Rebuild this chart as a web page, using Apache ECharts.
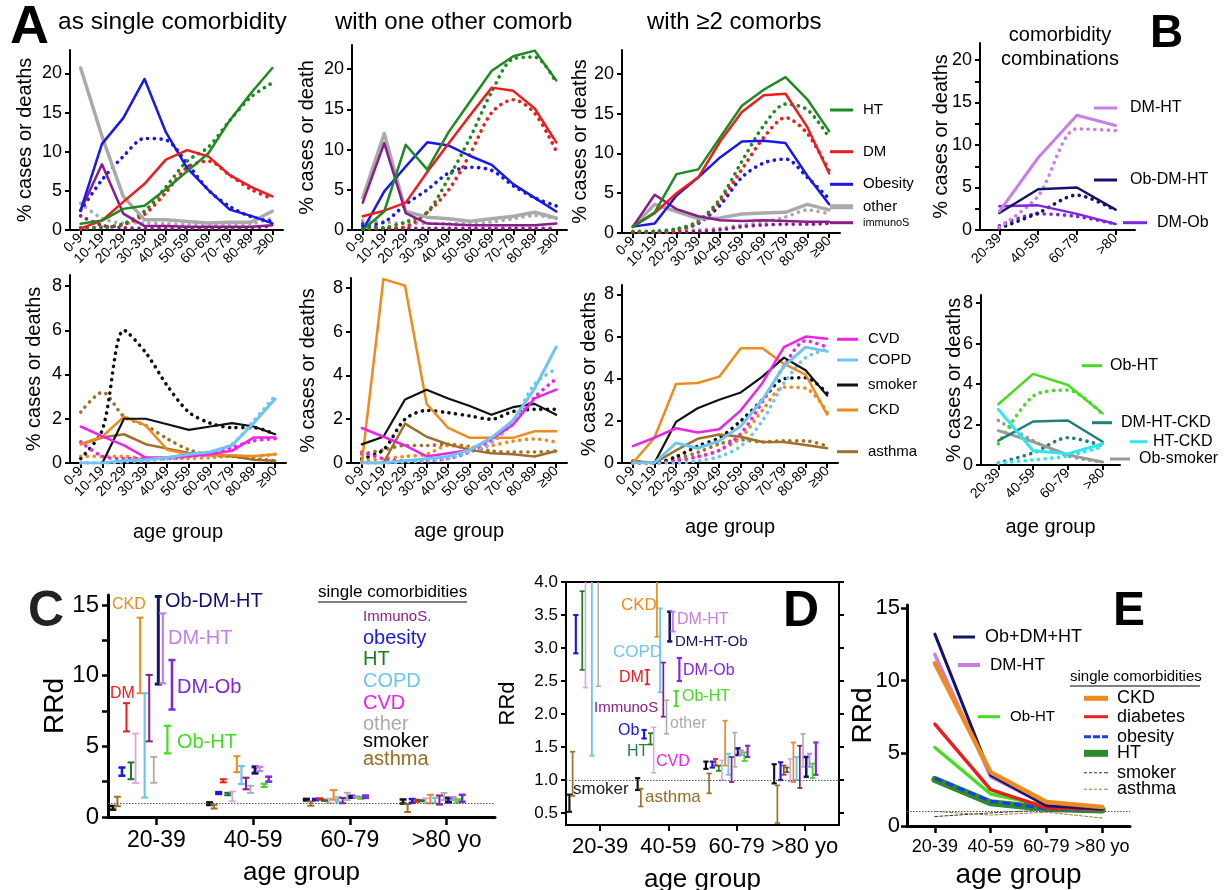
<!DOCTYPE html>
<html><head><meta charset="utf-8">
<script src="https://cdn.jsdelivr.net/npm/echarts@6/dist/echarts.min.js"></script>
<style>html,body{margin:0;padding:0;background:#fff}#c{width:1225px;height:890px}</style>
</head><body><div id="c"></div>
<script>
// ---------- categories & ticks ----------
const ages10 = ['0-9','10-19','20-29','30-39','40-49','50-59','60-69','70-79','80-89','≥90'];
const agesB = ['20-39','40-59','60-79','>80'];
const agesCDE = ['20-39','40-59','60-79','>80 yo'];
const ticksTop = [0,5,10,15,20];
const ticksBot = [0,2,4,6,8];
const ticksBTop = [0,2.5,5,7.5,10,12.5,15,17.5,20];
const labelsRRd = [0,5,10,15];
const ticksRRd = [0,2.5,5,7.5,10,12.5,15];
const ticksD = [0.5,1.0,1.5,2.0,2.5,3.0,3.5,4.0];

// ---------- A1: as single comorbidity (cases solid, deaths dotted) ----------
const a1_HT_c = [0.8,1.2,2.7,3.1,5.2,7.5,9.8,14.0,17.5,20.7];
const a1_HT_d = [0.3,0.3,0.8,2.4,5.5,8.8,10.6,14.0,17.0,18.8];
const a1_DM_c = [0.2,1.2,3.6,5.9,9.0,10.2,9.4,7.0,5.5,4.3];
const a1_DM_d = [0.1,0.4,0.7,2.0,4.8,8.0,8.8,7.0,5.2,4.0];
const a1_Ob_c = [2.55,11.0,14.3,19.3,12.5,7.9,5.1,2.6,1.8,0.85];
const a1_Ob_d = [2.5,6.4,9.4,11.7,11.5,8.5,5.1,3.0,1.7,1.1];
const a1_oth_c = [20.7,12.0,4.3,1.3,1.3,1.1,0.9,1.0,1.0,2.4];
const a1_oth_d = [3.4,1.5,0.9,0.9,0.8,0.7,0.7,0.7,0.8,1.5];
const a1_imm_c = [2.5,8.4,2.1,0.5,0.5,0.4,0.4,0.4,0.4,0.6];
const a1_imm_d = [1.8,0.6,0.3,0.2,0.2,0.2,0.2,0.2,0.3,0.5];
// ---------- A2: with one other comorb ----------
const a2_HT_c = [0,2.3,10.6,7.5,12.2,16.0,19.8,21.6,22.3,18.6];
const a2_HT_d = [0.2,0.3,1.0,2.2,6.5,11.5,17.2,21.3,21.5,18.3];
const a2_DM_c = [1.7,2.4,3.4,7.2,10.8,14.3,17.7,17.3,15.1,10.9];
const a2_DM_d = [0.1,0.2,0.4,2.2,5.0,9.5,14.6,16.2,14.5,9.8];
const a2_Ob_c = [0,4.8,7.9,10.9,10.5,9.2,8.1,5.7,4.0,2.3];
const a2_Ob_d = [0.5,1.0,3.2,5.0,7.1,7.8,7.4,5.5,4.0,3.0];
const a2_oth_c = [4.0,12.0,2.3,1.6,1.4,1.1,1.4,1.7,2.2,1.5];
const a2_oth_d = [1.2,1.0,0.8,0.8,0.8,0.8,1.0,1.4,1.8,1.4];
const a2_imm_c = [3.4,10.8,2.1,0.8,0.7,0.6,0.6,0.6,0.6,0.8];
const a2_imm_d = [0.8,0.2,0.2,0.2,0.2,0.2,0.2,0.2,0.2,0.2];
// ---------- A3: with >=2 comorbs ----------
const a3_HT_c = [0.8,2.6,7.4,8.0,12.0,16.0,18.0,19.6,16.8,12.8];
const a3_HT_d = [0.2,0.2,0.5,1.5,4.3,9.0,13.5,16.2,15.5,12.0];
const a3_DM_c = [0.8,2.5,5.0,7.0,11.5,15.2,17.3,17.5,13.3,7.5];
const a3_DM_d = [0.1,0.1,0.3,1.3,4.0,8.0,12.0,14.5,12.5,7.8];
const a3_Ob_c = [0.8,1.2,4.7,7.0,9.5,11.5,11.6,11.3,7.2,3.6];
const a3_Ob_d = [0.1,0.2,0.5,1.2,3.5,7.0,8.8,9.3,7.0,4.3];
const a3_oth_c = [0.8,3.6,2.7,1.8,1.9,2.4,2.5,2.6,3.6,2.9];
const a3_oth_d = [0.1,0.1,0.3,0.4,0.6,1.0,1.4,2.0,2.9,2.4];
const a3_imm_c = [0.8,4.8,3.0,2.1,1.6,1.5,1.6,1.5,1.4,1.4];
const a3_imm_d = [0.1,0.1,0.1,0.2,0.4,0.8,1.0,1.1,1.1,1.2];
// ---------- A4 (single) ----------
const a4_smk_c = [0,0,2.0,2.0,1.75,1.5,1.65,1.8,1.65,1.3];
const a4_smk_d = [0.2,1.5,6.0,5.0,3.5,2.3,1.8,1.6,1.6,1.3];
const a4_ckd_c = [0.85,1.2,2.1,1.7,0.6,0.4,0.35,0.35,0.3,0.4];
const a4_ckd_d = [0.3,0.3,0.3,0.2,0.2,0.2,0.25,0.3,0.3,0.4];
const a4_ast_c = [0.85,1.15,1.3,0.85,0.65,0.45,0.4,0.3,0.15,0.1];
const a4_ast_d = [2.3,3.2,2.1,1.7,1.1,0.6,0.35,0.3,0.2,0.1];
const a4_cvd_c = [1.65,1.2,0.8,0.25,0.25,0.3,0.4,0.55,1.15,1.15];
const a4_cvd_d = [0.95,0.3,0.2,0.2,0.2,0.3,0.4,0.7,1.0,1.1];
const a4_copd_c = [0,0,0.1,0.15,0.25,0.4,0.5,0.8,1.8,2.9];
const a4_copd_d = [0,0,0.05,0.1,0.2,0.35,0.5,0.85,1.9,3.05];
// ---------- A5 (one other) ----------
const a5_ckd_c = [0,8.4,8.1,2.7,1.6,1.15,1.15,1.15,1.45,1.45];
const a5_ckd_d = [0.1,0.2,0.3,0.4,0.8,0.7,0.8,1.0,1.1,0.95];
const a5_smk_c = [0.85,1.2,2.9,3.35,2.95,2.6,2.2,2.55,2.7,2.2];
const a5_smk_d = [0.2,0.6,2.0,2.4,2.3,2.15,2.0,2.35,2.45,2.45];
const a5_ast_c = [0,0,1.8,1.2,0.85,0.6,0.45,0.4,0.3,0.55];
const a5_ast_d = [0.4,0.6,0.8,0.8,0.85,0.75,0.55,0.5,0.5,0.55];
const a5_cvd_c = [1.6,1.2,0.8,0.3,0.45,0.6,1.1,1.75,2.95,3.35];
const a5_cvd_d = [0.5,0.2,0.1,0.1,0.2,0.5,1.0,1.8,3.0,3.85];
const a5_copd_c = [0,0,0.1,0.2,0.3,0.6,1.15,1.95,3.4,5.3];
const a5_copd_d = [0,0,0.05,0.1,0.2,0.5,0.9,1.9,3.6,4.3];
// ---------- A6 (>=2) ----------
const a6_cvd_c = [0.8,1.2,1.65,1.45,1.6,2.5,3.8,5.5,6.0,5.9];
const a6_cvd_d = [0,0,0.1,0.3,0.6,1.4,2.9,4.6,5.8,5.5];
const a6_copd_c = [0,0,0.95,0.7,1.05,1.75,3.0,4.6,5.5,5.3];
const a6_copd_d = [0,0,0,0.1,0.3,0.8,2.0,3.8,5.0,5.4];
const a6_smk_c = [0,0,1.95,2.6,3.0,3.35,4.1,5.0,4.4,3.2];
const a6_smk_d = [0,0,0.3,0.8,1.2,2.0,3.0,4.0,4.05,3.3];
const a6_ckd_c = [0,1.2,3.75,3.8,4.1,5.45,5.45,4.7,4.2,2.3];
const a6_ckd_d = [0,0,0.1,0.3,0.6,1.2,2.5,3.6,3.55,2.4];
const a6_ast_c = [0.1,0,0.6,1.15,1.35,1.25,1.0,1.0,0.85,0.7];
const a6_ast_d = [0.1,0,0.2,0.5,0.9,1.1,1.0,1.05,1.05,0.8];
// ---------- B: comorbidity combinations ----------
const b1_dmht_c = [2.2,8.5,13.5,12.3];
const b1_dmht_d = [0.3,4.0,11.9,11.7];
const b1_obdmht_c = [2.0,4.8,5.0,2.4];
const b1_obdmht_d = [0.2,2.0,4.1,2.3];
const b1_dmob_c = [2.8,2.9,1.9,0.7];
const b1_dmob_d = [0.5,1.9,1.6,0.7];
const b2_obht_c = [3.0,4.5,3.95,2.55];
const b2_obht_d = [1.05,3.4,3.7,2.5];
const b2_dmhtckd_c = [1.2,2.15,2.2,1.15];
const b2_dmhtckd_d = [0.1,0.6,1.35,0.95];
const b2_htckd_c = [2.75,0.7,0.55,1.05];
const b2_htckd_d = [0.1,0.25,0.45,0.9];
const b2_obsmk_c = [1.7,1.15,0.5,0.15];
const b2_obsmk_d = [2.2,1.2,0.45,0.15];
// ---------- C / D: RRd intervals [low, high] per age group ----------
const rr_smoker = [[0.52,0.78],[0.85,1.03],[1.17,1.28],[0.95,1.24]];
const rr_asthma = [[0.76,1.43],[0.6,0.87],[0.8,1.1],[0.35,0.92]];
const rr_obesity = [[2.92,3.5],[1.63,1.76],[1.19,1.28],[1.0,1.27]];
const rr_DM = [[6.05,8.05],[2.45,2.67],[1.22,1.32],[1.08,1.22]];
const rr_HT = [[2.67,3.86],[1.54,1.71],[1.14,1.22],[1.12,1.19]];
const rr_CVD = [[2.4,5.9],[1.11,1.8],[1.0,1.3],[0.98,1.32]];
const rr_CKD = [[8.75,14.1],[3.17,4.3],[1.22,1.9],[0.97,1.57]];
const rr_COPD = [[1.37,8.75],[2.33,3.6],[1.08,1.4],[1.0,1.35]];
const rr_immuno = [[5.35,10.05],[1.96,2.78],[0.97,1.35],[0.88,1.52]];
const rr_other = [[2.42,4.25],[1.7,2.21],[1.2,1.72],[1.2,1.7]];
const rr_ObDMHT = [[9.4,15.6],[3.1,3.55],[1.38,1.48],[1.05,1.35]];
const rr_DMHT = [[9.45,14.4],[3.25,3.55],[1.38,1.45],[1.2,1.4]];
const rr_ObHT = [[4.5,6.45],[2.12,2.35],[1.29,1.42],[1.03,1.25]];
const rr_DMOb = [[7.6,11.1],[2.5,2.85],[1.35,1.52],[1.08,1.57]];
// ---------- E: RRd lines ----------
const e_obdmht = [13.2,3.5,1.4,1.15];
const e_dmht = [11.8,3.4,1.45,1.2];
const e_ckd = [11.2,3.7,1.65,1.3];
const e_dm = [7.0,2.5,1.25,1.15];
const e_obht = [5.4,2.2,1.4,1.1];
const e_ht = [3.2,1.6,1.2,1.1];
const e_ob = [3.3,1.7,1.2,1.15];
const e_smk = [0.65,0.9,1.1,1.1];
const e_ast = [1.0,0.75,0.95,0.55];

// ---------- colours ----------
const C = {
  HT:'#1f8a1f', DM:'#ee1c1c', Ob:'#1717ee', oth:'#aaaaaa', imm:'#8b1a8b',
  CVD:'#ee22ee', COPD:'#6ec6f0', smk:'#111111', CKD:'#f08a1c', ast:'#a0702a',
  DMHT:'#c77ee8', ObDMHT:'#14146e', DMOb:'#7f26e6', ObHT:'#44dd22', DMHTCKD:'#1f7f7f', HTCKD:'#2ee6ee', ObSmk:'#9a9a9a',
  CVDbar:'#dba2e8', HTdark:'#1e7a1e', astTxt:'#9a6a20'
};
const FF = "'Liberation Sans', Arial, Helvetica, sans-serif";

// ---------- builders ----------
const grids=[], xAxes=[], yAxes=[], series=[], legends=[], graphics=[];
function merge(a,b){for(const k in b){const v=b[k];if(v&&typeof v==='object'&&!Array.isArray(v)&&a[k]&&typeof a[k]==='object'&&!Array.isArray(a[k]))merge(a[k],v);else a[k]=v;}return a;}
function grid(left,top,width,height){grids.push({left,top,width,height,containLabel:false,outerBoundsMode:'none'});return grids.length-1;}
function xCat(gi,data,o){const ax={type:'category',gridIndex:gi,data,boundaryGap:true,
  axisLine:{show:true,lineStyle:{color:'#000',width:2}},
  axisTick:{show:true,alignWithLabel:true,length:5,lineStyle:{color:'#000',width:2}},
  axisLabel:{show:true,color:'#000',fontFamily:FF,fontSize:14,rotate:45,margin:6,interval:0,hideOverlap:false},
  splitLine:{show:false},nameLocation:'middle',nameMoveOverlap:false,
  nameTextStyle:{fontFamily:FF,fontSize:20,color:'#000'}};
  merge(ax,o||{});xAxes.push(ax);return xAxes.length-1;}
function yVal(gi,min,max,labelVals,tickVals,o){const ax={type:'value',gridIndex:gi,min,max,
  axisLine:{show:true,lineStyle:{color:'#000',width:2}},
  axisTick:{show:true,length:5,lineStyle:{color:'#000',width:2},customValues:tickVals},
  axisLabel:{show:true,color:'#000',fontFamily:FF,fontSize:18,margin:8,customValues:labelVals,hideOverlap:false},
  splitLine:{show:false},nameLocation:'middle',nameRotate:90,nameMoveOverlap:false,
  nameTextStyle:{fontFamily:FF,fontSize:20,color:'#000'}};
  merge(ax,o||{});yAxes.push(ax);return yAxes.length-1;}
function line(name,xi,yi,data,color,dotted,width,extra){
  const s={type:'line',name,xAxisIndex:xi,yAxisIndex:yi,data,color,symbol:'none',silent:true,
    emphasis:{disabled:true},z:dotted?2:3,smooth:dotted?0.3:false,
    lineStyle:dotted?{color,width:3.6,type:[0.1,6.6],cap:'round'}:{color,width:width||2.5,cap:'round',join:'round'}};
  merge(s,extra||{});series.push(s);}
function leg(name,left,cy,fs,iw,ih,gap,icon){const lh=fs+3;
  legends.push({data:[{name,icon:icon||'rect'}],left,top:cy-lh/2,itemWidth:iw,itemHeight:ih,padding:0,
    selectedMode:false,formatter:n=>n.split('|')[1],
    textStyle:{fontFamily:FF,fontSize:fs,color:'#000',lineHeight:lh,padding:[0,0,0,Math.max(0,gap-5)]}});}
function txt(text,x,y,fs,color,o){const st={text,x:0,y:0,fill:color||'#000',font:((o&&o.weight)||'normal')+' '+fs+'px '+FF,
  textAlign:(o&&o.align)||'left',textVerticalAlign:'middle',verticalAlign:'middle'};
  graphics.push({type:'text',x,y,silent:true,style:st,z:50});}
function uline(x1,x2,y){graphics.push({type:'line',silent:true,shape:{x1,y1:y,x2,y2:y},style:{stroke:'#000',lineWidth:1},z:50});}
function errBars(name,xi,yi,data,color,idx,lw,cap,extra){
  const s={type:'custom',name,xAxisIndex:xi,yAxisIndex:yi,clip:true,silent:true,
    data:data.map((d,i)=>[i,d[0],d[1]]),encode:{x:0,y:[1,2]},
    renderItem:(params,api)=>{const c=api.value(0);
      const p1=api.coord([c,api.value(1)]),p2=api.coord([c,api.value(2)]);
      const bw=api.size([1,0])[0];const x=p1[0]+(-0.45+idx*0.047)*bw;
      const st={stroke:color,lineWidth:lw};
      return {type:'group',children:[
        {type:'line',shape:{x1:x,y1:p1[1],x2:x,y2:p2[1]},style:st},
        {type:'line',shape:{x1:x-cap,y1:p1[1],x2:x+cap,y2:p1[1]},style:st},
        {type:'line',shape:{x1:x-cap,y1:p2[1],x2:x+cap,y2:p2[1]},style:st}]};}};
  merge(s,extra||{});series.push(s);}
const refLine={markLine:{silent:true,symbol:['none','none'],label:{show:false},
  lineStyle:{color:'#555',width:1,type:[1.5,1.5]},data:[{yAxis:1}],animation:false}};

// ---------- grids ----------
const gA1=grid(70,50,213,180), gA2=grid(352,45,215,185), gA3=grid(622,50,218,183), gB1=grid(980,43,155,187);
const gA4=grid(70,275,216,188), gA5=grid(351,278,216,185), gA6=grid(622,285,216,178), gB2=grid(981,295,139,170);
const gC=grid(108,595,387,222), gD=grid(566,582,273,243), gE=grid(907,605,223,221);

// ---------- A top row ----------
const xA1=xCat(gA1,ages10), yA1=yVal(gA1,0,23,ticksTop,ticksTop,{name:'% cases or deaths',nameGap:35});
const xA2=xCat(gA2,ages10), yA2=yVal(gA2,0,23,ticksTop,ticksTop,{name:'% cases or death',nameGap:35});
const xA3=xCat(gA3,ages10), yA3=yVal(gA3,0,23,ticksTop,ticksTop,{name:'% cases or deaths',nameGap:32});
function topPanel(p,xi,yi,d){
  line(p+'|other',xi,yi,d.oth_c,C.oth,false,3.5); line(p+'|other d',xi,yi,d.oth_d,C.oth,true);
  line(p+'|immunoS',xi,yi,d.imm_c,C.imm); line(p+'|immunoS d',xi,yi,d.imm_d,C.imm,true);
  line(p+'|Obesity',xi,yi,d.Ob_c,C.Ob); line(p+'|Obesity d',xi,yi,d.Ob_d,C.Ob,true);
  line(p+'|DM',xi,yi,d.DM_c,C.DM); line(p+'|DM d',xi,yi,d.DM_d,C.DM,true);
  line(p+'|HT',xi,yi,d.HT_c,C.HT); line(p+'|HT d',xi,yi,d.HT_d,C.HT,true);
}
topPanel('A1',xA1,yA1,{HT_c:a1_HT_c,HT_d:a1_HT_d,DM_c:a1_DM_c,DM_d:a1_DM_d,Ob_c:a1_Ob_c,Ob_d:a1_Ob_d,oth_c:a1_oth_c,oth_d:a1_oth_d,imm_c:a1_imm_c,imm_d:a1_imm_d});
topPanel('A2',xA2,yA2,{HT_c:a2_HT_c,HT_d:a2_HT_d,DM_c:a2_DM_c,DM_d:a2_DM_d,Ob_c:a2_Ob_c,Ob_d:a2_Ob_d,oth_c:a2_oth_c,oth_d:a2_oth_d,imm_c:a2_imm_c,imm_d:a2_imm_d});
topPanel('A3',xA3,yA3,{HT_c:a3_HT_c,HT_d:a3_HT_d,DM_c:a3_DM_c,DM_d:a3_DM_d,Ob_c:a3_Ob_c,Ob_d:a3_Ob_d,oth_c:a3_oth_c,oth_d:a3_oth_d,imm_c:a3_imm_c,imm_d:a3_imm_d});
leg('A3|HT',830,110,15,23,3,10); leg('A3|DM',830,151.7,15,23,3,10); leg('A3|Obesity',830,184.3,15,23,3,10);
leg('A3|other',830,206.7,15,23,5,10); leg('A3|immunoS',830,222.7,11,23,3,10);

// ---------- B top ----------
const xB1=xCat(gB1,agesB), yB1=yVal(gB1,0,22,ticksTop,ticksBTop,{name:'% cases or deaths',nameGap:29});
line('B1|DM-Ob',xB1,yB1,b1_dmob_c,C.DMOb); line('B1|DM-Ob d',xB1,yB1,b1_dmob_d,C.DMOb,true);
line('B1|Ob-DM-HT',xB1,yB1,b1_obdmht_c,C.ObDMHT); line('B1|Ob-DM-HT d',xB1,yB1,b1_obdmht_d,C.ObDMHT,true);
line('B1|DM-HT',xB1,yB1,b1_dmht_c,C.DMHT,false,3); line('B1|DM-HT d',xB1,yB1,b1_dmht_d,C.DMHT,true);
leg('B1|DM-HT',1094,108,16,23,3,13); leg('B1|Ob-DM-HT',1094,180,16,23,3,13); leg('B1|DM-Ob',1123,222.7,16,24,3,10);

// ---------- A bottom row ----------
const xA4=xCat(gA4,ages10,{name:'age group',nameGap:59}), yA4=yVal(gA4,0,8.5,ticksBot,ticksBot,{name:'% cases or deaths',nameGap:26});
const xA5=xCat(gA5,ages10,{name:'age group',nameGap:58}), yA5=yVal(gA5,0,8.45,ticksBot,ticksBot,{name:'% cases or deaths',nameGap:33});
const xA6=xCat(gA6,ages10,{name:'age group',nameGap:54}), yA6=yVal(gA6,0,8.45,ticksBot,ticksBot,{name:'% cases or deaths',nameGap:23});
function botPanel(p,xi,yi,d){
  line(p+'|asthma',xi,yi,d.ast_c,C.ast); line(p+'|asthma d',xi,yi,d.ast_d,C.ast,true);
  line(p+'|CKD',xi,yi,d.ckd_c,C.CKD); line(p+'|CKD d',xi,yi,d.ckd_d,C.CKD,true);
  line(p+'|smoker',xi,yi,d.smk_c,C.smk,false,2.2); line(p+'|smoker d',xi,yi,d.smk_d,C.smk,true);
  line(p+'|CVD',xi,yi,d.cvd_c,C.CVD); line(p+'|CVD d',xi,yi,d.cvd_d,C.CVD,true);
  line(p+'|COPD',xi,yi,d.copd_c,C.COPD,false,3); line(p+'|COPD d',xi,yi,d.copd_d,C.COPD,true);
}
botPanel('A4',xA4,yA4,{smk_c:a4_smk_c,smk_d:a4_smk_d,ckd_c:a4_ckd_c,ckd_d:a4_ckd_d,ast_c:a4_ast_c,ast_d:a4_ast_d,cvd_c:a4_cvd_c,cvd_d:a4_cvd_d,copd_c:a4_copd_c,copd_d:a4_copd_d});
botPanel('A5',xA5,yA5,{smk_c:a5_smk_c,smk_d:a5_smk_d,ckd_c:a5_ckd_c,ckd_d:a5_ckd_d,ast_c:a5_ast_c,ast_d:a5_ast_d,cvd_c:a5_cvd_c,cvd_d:a5_cvd_d,copd_c:a5_copd_c,copd_d:a5_copd_d});
botPanel('A6',xA6,yA6,{smk_c:a6_smk_c,smk_d:a6_smk_d,ckd_c:a6_ckd_c,ckd_d:a6_ckd_d,ast_c:a6_ast_c,ast_d:a6_ast_d,cvd_c:a6_cvd_c,cvd_d:a6_cvd_d,copd_c:a6_copd_c,copd_d:a6_copd_d});
leg('A6|CVD',837,339.3,15,21,3,10); leg('A6|COPD',837,360,15,21,3,10); leg('A6|smoker',837,385,15,21,3,10);
leg('A6|CKD',837,410,15,21,3,10); leg('A6|asthma',837,451.7,15,21,3,10);

// ---------- B bottom ----------
const xB2=xCat(gB2,agesB,{name:'age group',nameGap:52}), yB2=yVal(gB2,0,8.4,ticksBot,ticksBot,{name:'% cases or deaths',nameGap:17});
line('B2|Ob-smoker',xB2,yB2,b2_obsmk_c,C.ObSmk,false,3); line('B2|Ob-smoker d',xB2,yB2,b2_obsmk_d,C.ObSmk,true);
line('B2|DM-HT-CKD',xB2,yB2,b2_dmhtckd_c,C.DMHTCKD); line('B2|DM-HT-CKD d',xB2,yB2,b2_dmhtckd_d,C.DMHTCKD,true);
line('B2|HT-CKD',xB2,yB2,b2_htckd_c,C.HTCKD,false,3); line('B2|HT-CKD d',xB2,yB2,b2_htckd_d,C.HTCKD,true);
line('B2|Ob-HT',xB2,yB2,b2_obht_c,C.ObHT); line('B2|Ob-HT d',xB2,yB2,b2_obht_d,C.ObHT,true);
leg('B2|Ob-HT',1082,365.7,16,20,3,8); leg('B2|DM-HT-CKD',1092,422.7,16,20,3,9);
leg('B2|HT-CKD',1130,441.7,16,17,3,6); leg('B2|Ob-smoker',1110,459,16,20,3,9);

// ---------- C ----------
const xC=xCat(gC,agesCDE,{name:'age group',nameGap:43,nameTextStyle:{fontSize:26},
  axisLine:{lineStyle:{width:3}},axisTick:{length:8,lineStyle:{width:2.5}},axisLabel:{rotate:0,fontSize:23,margin:12}});
const yC=yVal(gC,0,15.7,labelsRRd,ticksRRd,{name:'RRd',nameGap:39,nameTextStyle:{fontSize:28},
  axisLine:{lineStyle:{width:3}},axisTick:{length:6,lineStyle:{width:2.5}},axisLabel:{fontSize:24,margin:9}});
const rrList=[['smoker',rr_smoker,C.smk,2.5],['asthma',rr_asthma,C.ast,2],['obesity',rr_obesity,C.Ob,2.5],['DM',rr_DM,C.DM,2],
  ['HT',rr_HT,C.HTdark,2],['CVD',rr_CVD,C.CVDbar,1.8],['CKD',rr_CKD,C.CKD,2],['COPD',rr_COPD,C.COPD,2.2],
  ['immunoS',rr_immuno,C.imm,2],['other',rr_other,C.oth,1.8],['Ob-DM-HT',rr_ObDMHT,C.ObDMHT,3],['DM-HT',rr_DMHT,C.DMHT,2.2],
  ['Ob-HT',rr_ObHT,C.ObHT,2.2],['DM-Ob',rr_DMOb,C.DMOb,2.5]];
rrList.forEach((r,i)=>errBars('C|'+r[0],xC,yC,r[1],r[2],i,r[3],3.5,i===0?refLine:null));

// ---------- D ----------
const xD=xCat(gD,agesCDE,{name:'age group',nameGap:42,nameTextStyle:{fontSize:26},
  axisLine:{lineStyle:{width:2}},axisTick:{length:6},axisLabel:{rotate:0,fontSize:22,margin:11}});
const xDtop=xCat(gD,agesCDE,{position:'top',axisTick:{show:false},axisLabel:{show:false}});
const yD=yVal(gD,0.32,4.0,ticksD,ticksD,{name:'RRd',nameGap:47,nameTextStyle:{fontSize:22},
  axisLabel:{fontSize:17,margin:8,formatter:v=>v.toFixed(1)}});
const yDr=yVal(gD,0.32,4.0,ticksD,ticksD,{position:'right',axisLabel:{show:false}});
rrList.forEach((r,i)=>errBars('D|'+r[0],xD,yD,r[1],r[2],i,r[3]*0.85,2.6,i===0?refLine:null));

// ---------- E ----------
const xE=xCat(gE,agesCDE,{name:'age group',nameGap:35,nameTextStyle:{fontSize:28},
  axisLine:{lineStyle:{width:3}},axisTick:{length:7,lineStyle:{width:2.5}},axisLabel:{rotate:0,fontSize:18,margin:12}});
const yE=yVal(gE,0,15.2,labelsRRd,labelsRRd,{name:'RRd',nameGap:30,nameTextStyle:{fontSize:28},
  axisLine:{lineStyle:{width:3}},axisTick:{length:6,lineStyle:{width:2.5}},axisLabel:{fontSize:22,margin:7}});
line('E|smoker',xE,yE,e_smk,'#333333',false,1,{lineStyle:{type:[3,2]},markLine:refLine.markLine});
line('E|asthma',xE,yE,e_ast,'#a0803a',false,1,{lineStyle:{type:[3,2]}});
line('E|HT',xE,yE,e_ht,'#2d8a2d',false,7);
line('E|obesity',xE,yE,e_ob,'#1a3cf0',false,3,{lineStyle:{type:[8,4],cap:'butt'}});
line('E|Ob-HT',xE,yE,e_obht,C.ObHT,false,3.5);
line('E|diabetes',xE,yE,e_dm,C.DM,false,3.5);
line('E|DM-HT',xE,yE,e_dmht,C.DMHT,false,3.5);
line('E|Ob+DM+HT',xE,yE,e_obdmht,C.ObDMHT,false,3);
line('E|CKD',xE,yE,e_ckd,C.CKD,false,4.5);
leg('E|Ob+DM+HT',953,637,18,22,3,10); leg('E|DM-HT',958,665,17,22,4,10); leg('E|Ob-HT',978,716.7,15,22,3,10);
leg('E|CKD',1084,698.3,18,24,5,9); leg('E|diabetes',1084,716.7,18,24,3,9);
leg('E|obesity',1084,736.7,18,24,3,9,'path://M0,0h7v3h-7zM9,0h7v3h-7zM18,0h6v3h-6z');
leg('E|HT',1084,753.3,18,24,7,9);
leg('E|smoker',1084,772.7,18,24,1,9,'path://M0,0h3v1h-3zM5,0h3v1h-3zM10,0h3v1h-3zM15,0h3v1h-3zM20,0h4v1h-4z');
leg('E|asthma',1084,789.3,18,24,1,9,'path://M0,0h3v1h-3zM5,0h3v1h-3zM10,0h3v1h-3zM15,0h3v1h-3zM20,0h4v1h-4z');

// ---------- free texts ----------
txt('A',10,28,54,'#000',{weight:'bold'});
txt('as single comorbidity',58,22,24.5);
txt('with one other comorb',335,22,24);
txt('with ≥2 comorbs',647,22,24);
txt('comorbidity',1060,35,20,'#000',{align:'center'});
txt('combinations',1060,59,20,'#000',{align:'center'});
txt('B',1150,34,46,'#000',{weight:'bold'});
// C annotations
txt('C',28,612,50,'#222',{weight:'bold'});
txt('CKD',112,605,16,C.CKD); txt('Ob-DM-HT',165,601,20,C.ObDMHT); txt('DM-HT',168,638,20,C.DMHT);
txt('DM-Ob',177,687,20,C.DMOb); txt('DM',110,694,16,C.DM); txt('Ob-HT',177,742,20,C.ObHT);
txt('single comorbidities',318,592,17); uline(318,467,602);
txt('ImmunoS.',363,617,15,C.imm); txt('obesity',363,638,20,C.Ob); txt('HT',363,659,20,C.HTdark);
txt('COPD',363,681,20,C.COPD); txt('CVD',363,703,20,C.CVD); txt('other',363,724,20,C.oth);
txt('smoker',363,741,20,'#000'); txt('asthma',363,759,20,C.astTxt);
// D annotations
txt('D',783,612,50,'#000',{weight:'bold'});
txt('CKD',621,605,17,C.CKD); txt('DM-HT',677,620,16,C.DMHT); txt('DM-HT-Ob',675,642,15,C.ObDMHT);
txt('COPD',613,652,17,C.COPD); txt('DM-Ob',683,671,16,C.DMOb); txt('DM',619,678,16,C.DM);
txt('Ob-HT',682,697,16,C.ObHT); txt('ImmunoS',594,708,15,C.imm); txt('other',670,724,16,C.oth);
txt('Ob',618,731,16,C.Ob); txt('HT',627,752,16,'#2a7a4a'); txt('CVD',656,762,16,C.CVD);
txt('smoker',573,789,17,'#222'); txt('asthma',645,797,17,C.astTxt);
// E
txt('E',1113,612,48,'#000',{weight:'bold'});
txt('single comorbidities',1070,677,15); uline(1070,1200,686);

const chart = echarts.init(document.getElementById('c'), null, {renderer:'canvas'});
chart.setOption({animation:false,backgroundColor:'#fff',textStyle:{fontFamily:FF},
  grid:grids,xAxis:xAxes,yAxis:yAxes,series,legend:legends,graphic:graphics});
</script></body></html>
